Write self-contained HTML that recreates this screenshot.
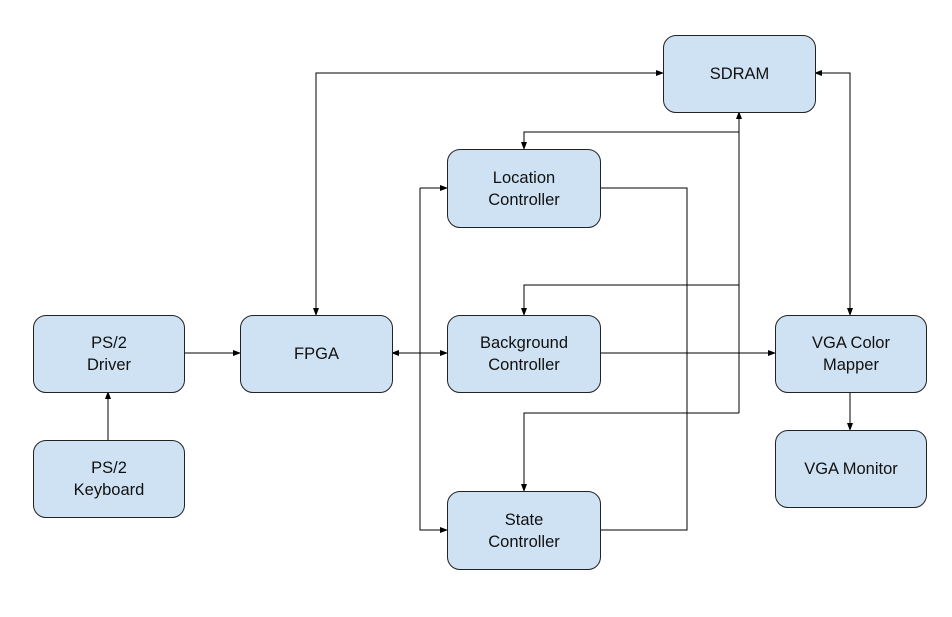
<!DOCTYPE html>
<html><head><style>
body{margin:0;background:#fff;}
.b{position:absolute;background:#cfe2f3;border:1px solid #222;border-radius:13px;box-sizing:border-box;display:flex;align-items:center;justify-content:center;text-align:center;font:16.5px/22px "Liberation Sans",sans-serif;color:#111;}
</style></head><body>
<div style="position:relative;width:952px;height:617px;overflow:hidden">
<svg width="952" height="617" style="position:absolute;left:0;top:0">
<defs><marker id="a" markerWidth="8" markerHeight="6" refX="7" refY="3" orient="auto-start-reverse" markerUnits="userSpaceOnUse"><path d="M0,0 L8,3 L0,6 z" fill="#000"/></marker></defs>
<g stroke="#000" stroke-width="1" fill="none">
<path d="M184,353 H240" marker-end="url(#a)"/>
<path d="M108,440 V392" marker-end="url(#a)"/>
<path d="M316,315 V73 H663" marker-end="url(#a)" marker-start="url(#a)"/>
<path d="M815,73 H850 V315" marker-end="url(#a)" marker-start="url(#a)"/>
<path d="M850,392 V430" marker-end="url(#a)"/>
<path d="M392,353 H447" marker-end="url(#a)" marker-start="url(#a)"/>
<path d="M420,188 V530 H447" marker-end="url(#a)"/>
<path d="M420,188 H447" marker-end="url(#a)"/>
<path d="M600,353 H775" marker-end="url(#a)"/>
<path d="M600,188 H687 V530 H600"/>
<path d="M739,132 H524 V149" marker-end="url(#a)"/>
<path d="M739,413 V112" marker-end="url(#a)"/>
<path d="M739,285 H524 V315" marker-end="url(#a)"/>
<path d="M739,413 H524 V491" marker-end="url(#a)"/>
</g></svg>
<div class="b" style="left:33px;top:315px;width:152px;height:78px">PS/2<br>Driver</div>
<div class="b" style="left:33px;top:440px;width:152px;height:78px">PS/2<br>Keyboard</div>
<div class="b" style="left:240px;top:315px;width:153px;height:78px">FPGA</div>
<div class="b" style="left:447px;top:149px;width:154px;height:79px">Location<br>Controller</div>
<div class="b" style="left:447px;top:315px;width:154px;height:78px">Background<br>Controller</div>
<div class="b" style="left:447px;top:491px;width:154px;height:79px">State<br>Controller</div>
<div class="b" style="left:663px;top:35px;width:153px;height:78px">SDRAM</div>
<div class="b" style="left:775px;top:315px;width:152px;height:78px">VGA Color<br>Mapper</div>
<div class="b" style="left:775px;top:430px;width:152px;height:78px">VGA Monitor</div>
</div>
</body></html>
